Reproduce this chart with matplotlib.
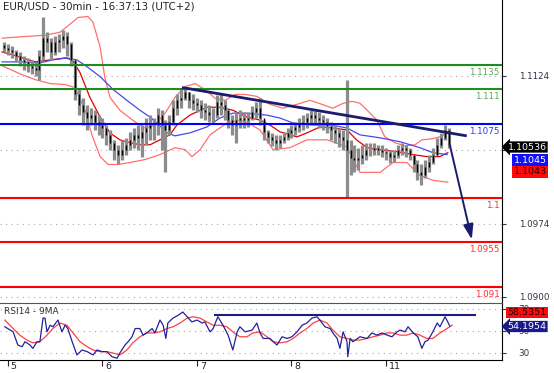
import numpy as np
import matplotlib
matplotlib.use("Agg")
import matplotlib.pyplot as plt
from matplotlib.transforms import ScaledTranslation

# hourly bars, x = hours since the open of day "5"
bar_hours = np.arange(-1, 113)
highs = [1.1158, 1.1156, 1.1154, 1.1150, 1.1148, 1.1144, 1.1142, 1.1140, 1.1138, 1.1150,
         1.1183, 1.1168, 1.1162, 1.1164, 1.1166, 1.1170, 1.1168, 1.1158, 1.1140, 1.1110,
         1.1101, 1.1094, 1.1091, 1.1089, 1.1084, 1.1081, 1.1074, 1.1069, 1.1059, 1.1054,
         1.1059, 1.1061, 1.1067, 1.1071, 1.1074, 1.1074, 1.1081, 1.1084, 1.1081, 1.1091,
         1.1089, 1.1079, 1.1084, 1.1099, 1.1105, 1.1110, 1.1112, 1.1107, 1.1105, 1.1101,
         1.1099, 1.1096, 1.1094, 1.1091, 1.1104, 1.1105, 1.1099, 1.1089, 1.1084, 1.1087,
         1.1089, 1.1087, 1.1087, 1.1093, 1.1097, 1.1101, 1.1079, 1.1069, 1.1066, 1.1064,
         1.1064, 1.1067, 1.1071, 1.1074, 1.1077, 1.1081, 1.1084, 1.1086, 1.1089, 1.1089,
         1.1087, 1.1084, 1.1081, 1.1077, 1.1074, 1.1071, 1.1069, 1.1120, 1.1059, 1.1054,
         1.1051, 1.1054, 1.1056, 1.1056, 1.1056, 1.1054, 1.1054, 1.1051, 1.1049, 1.1049,
         1.1054, 1.1056, 1.1054, 1.1051, 1.1044, 1.1039, 1.1034, 1.1039, 1.1044, 1.1051,
         1.1061, 1.1066, 1.1074, 1.1071]
lows = [1.1148, 1.1145, 1.1142, 1.1138, 1.1134, 1.1130, 1.1128, 1.1126, 1.1124, 1.1120,
        1.1140, 1.1148, 1.1140, 1.1145, 1.1148, 1.1152, 1.1144, 1.1134, 1.1099, 1.1084,
        1.1074, 1.1069, 1.1074, 1.1069, 1.1064, 1.1061, 1.1054, 1.1049, 1.1039, 1.1034,
        1.1039, 1.1044, 1.1049, 1.1051, 1.1049, 1.1042, 1.1054, 1.1059, 1.1059, 1.1064,
        1.1049, 1.1026, 1.1064, 1.1074, 1.1084, 1.1091, 1.1099, 1.1091, 1.1089, 1.1087,
        1.1081, 1.1079, 1.1077, 1.1077, 1.1081, 1.1084, 1.1079, 1.1071, 1.1064, 1.1056,
        1.1071, 1.1071, 1.1072, 1.1079, 1.1081, 1.1074, 1.1059, 1.1056, 1.1053, 1.1049,
        1.1051, 1.1056, 1.1059, 1.1061, 1.1064, 1.1067, 1.1069, 1.1071, 1.1074, 1.1074,
        1.1071, 1.1069, 1.1066, 1.1059, 1.1056, 1.1052, 1.1049, 1.1001, 1.1023, 1.1026,
        1.1028, 1.1034, 1.1039, 1.1043, 1.1044, 1.1044, 1.1042, 1.1039, 1.1036, 1.1037,
        1.1041, 1.1044, 1.1042, 1.1039, 1.1026, 1.1018, 1.1013, 1.1020, 1.1026, 1.1034,
        1.1044, 1.1051, 1.1059, 1.1051]
closes = [1.1152, 1.1150, 1.1148, 1.1144, 1.1140, 1.1138, 1.1134, 1.1132, 1.1130, 1.1144,
          1.1162, 1.1158, 1.1148, 1.1158, 1.1160, 1.1164, 1.1156, 1.1140, 1.1105, 1.1094,
          1.1087, 1.1081, 1.1084, 1.1077, 1.1074, 1.1071, 1.1064, 1.1056, 1.1049, 1.1044,
          1.1049, 1.1054, 1.1059, 1.1064, 1.1061, 1.1067, 1.1071, 1.1074, 1.1074, 1.1084,
          1.1074, 1.1069, 1.1077, 1.1091, 1.1099, 1.1101, 1.1107, 1.1099, 1.1096, 1.1094,
          1.1089, 1.1087, 1.1084, 1.1084, 1.1097, 1.1094, 1.1089, 1.1079, 1.1074, 1.1079,
          1.1081, 1.1079, 1.1081, 1.1087, 1.1091, 1.1081, 1.1067, 1.1062, 1.1059, 1.1056,
          1.1059, 1.1062, 1.1066, 1.1069, 1.1072, 1.1076, 1.1077, 1.1081, 1.1084, 1.1081,
          1.1079, 1.1077, 1.1073, 1.1069, 1.1066, 1.1062, 1.1059, 1.1049, 1.1041, 1.1039,
          1.1041, 1.1044, 1.1049, 1.1049, 1.1051, 1.1049, 1.1047, 1.1046, 1.1042, 1.1044,
          1.1049, 1.1051, 1.1049, 1.1044, 1.1034, 1.1026, 1.1023, 1.1031, 1.1037, 1.1044,
          1.1054, 1.1061, 1.1069, 1.10536]
first_open = 1.1155

# bollinger bands and moving average
bb_up_h = [-1.5, 1.8, 5.6, 9.4, 13.2, 15.7, 17.8, 20.3, 21.6, 23.4, 24.6, 25.9, 28.4, 32.3, 34.8,
           37.3, 39.9, 42.4, 45.0, 47.5, 50.0, 52.6, 55.1, 57.7, 60.2, 63.2, 66.5, 69.8, 73.4,
           76.7, 79.7, 82.5, 85.1, 87.4, 89.4, 91.2, 93.7, 95.7, 98.3, 100.8, 103.4, 105.1,
           107.7, 109.7, 111.7]
bb_up = [1.1162, 1.1163, 1.1164, 1.1165, 1.1168, 1.1176, 1.1183, 1.1184, 1.1178, 1.1153, 1.1122,
         1.1102, 1.1089, 1.1077, 1.1071, 1.1074, 1.1086, 1.1102, 1.1113, 1.1116, 1.1110, 1.1101,
         1.1099, 1.1105, 1.1105, 1.1103, 1.1095, 1.1091, 1.1095, 1.1099, 1.1095, 1.1091, 1.1096,
         1.1098, 1.1096, 1.1089, 1.1079, 1.1062, 1.1056, 1.1053, 1.1054, 1.1059, 1.1060, 1.1062,
         1.1066]
bb_mid_h = [-1.5, 3.0, 6.9, 10.7, 14.5, 16.3, 18.3, 20.8, 23.4, 25.9, 28.4, 31.0, 33.5, 36.1,
            38.6, 41.1, 42.9, 46.2, 50.5, 53.8, 57.1, 60.7, 64.0, 66.5, 69.1, 73.4, 75.9, 79.2,
            82.5, 86.1, 88.5, 91.2, 94.5, 98.8, 102.9, 106.3, 109.7, 111.7]
bb_mid = [1.1148, 1.1143, 1.1138, 1.1140, 1.1142, 1.1140, 1.1127, 1.1102, 1.1082, 1.1066, 1.1059,
          1.1056, 1.1054, 1.1054, 1.1059, 1.1064, 1.1074, 1.1084, 1.1092, 1.1092, 1.1089, 1.1082,
          1.1079, 1.1074, 1.1067, 1.1062, 1.1066, 1.1072, 1.1071, 1.1069, 1.1059, 1.1051, 1.1049,
          1.1047, 1.1044, 1.1042, 1.1042, 1.1046]
bb_low_h = [-1.5, 3.0, 6.9, 10.7, 14.5, 17.0, 19.6, 21.3, 23.4, 25.4, 27.9, 31.0, 34.8, 38.6,
            42.4, 45.0, 46.7, 48.8, 51.3, 55.6, 58.9, 61.5, 64.0, 67.3, 71.6, 75.9, 81.0, 86.1,
            87.6, 89.4, 94.5, 97.8, 101.3, 104.6, 107.9, 111.7]
bb_low = [1.1134, 1.1126, 1.1120, 1.1116, 1.1115, 1.1112, 1.1089, 1.1064, 1.1042, 1.1034, 1.1034,
          1.1036, 1.1039, 1.1044, 1.1051, 1.1049, 1.1042, 1.1049, 1.1064, 1.1076, 1.1079, 1.1075,
          1.1069, 1.1049, 1.1051, 1.1059, 1.1059, 1.1052, 1.1039, 1.1026, 1.1026, 1.1036, 1.1036,
          1.1023, 1.1018, 1.1016]
ma_h = [-1.5, 3.0, 8.1, 11.4, 15.0, 17.5, 20.1, 23.4, 26.7, 30.2, 33.5, 36.1, 38.6, 40.4, 42.4,
        46.2, 50.5, 53.8, 57.1, 60.7, 65.8, 69.1, 72.4, 77.5, 81.8, 86.1, 89.4, 94.5, 99.6, 104.6,
        107.9, 111.5]
ma = [1.1138, 1.1138, 1.1137, 1.1140, 1.1142, 1.1140, 1.1133, 1.1123, 1.1110, 1.1099, 1.1089,
      1.1082, 1.1073, 1.1066, 1.1063, 1.1066, 1.1072, 1.1081, 1.1086, 1.1086, 1.1084, 1.1081,
      1.1076, 1.1074, 1.1074, 1.1071, 1.1064, 1.1061, 1.1057, 1.1051, 1.1046, 1.1044]

levels = [1.1135, 1.111, 1.1075, 1.1, 1.0955, 1.091]
level_labels = ["1.1135", "1.111", "1.1075", "1.1", "1.0955", "1.091"]
level_colors = ["#1e8c1e", "#1e8c1e", "#0000ff", "#ff0000", "#ff0000", "#ff0000"]
level_text_colors = ["#5aa85a", "#5aa85a", "#3333ff", "#ff3030", "#ff3030", "#ff3030"]

trend_h = [44.2, 116.5]
trend_p = [1.1112, 1.1063]
arrow_from = (112.2, 1.1054)
arrow_to = (117.8, 1.0958)

# RSI14 and its 9 period average
rsi_h = [-0.8, 1.3, 2.5, 3.6, 4.3, 5.6, 6.3, 7.4, 8.1, 8.9, 9.4, 9.9, 10.7, 11.4, 12.7, 13.7,
         14.5, 15.2, 16.3, 17.5, 18.8, 20.1, 21.6, 22.6, 23.9, 25.1, 26.4, 27.7, 28.4, 29.7,
         30.5, 31.5, 32.3, 33.5, 34.3, 35.6, 36.6, 37.3, 38.6, 39.4, 40.1, 40.6, 41.9, 43.2,
         44.4, 45.5, 46.7, 48.0, 49.3, 50.0, 51.3, 52.1, 53.3, 54.6, 55.9, 57.1, 58.2, 58.9,
         60.2, 62.0, 63.2, 64.0, 64.8, 66.5, 68.3, 69.6, 70.9, 72.1, 73.4, 74.7, 75.9, 77.2,
         78.5, 79.2, 80.5, 81.8, 82.5, 83.6, 84.3, 85.1, 86.1, 86.3, 86.9, 87.6, 89.4, 91.2,
         92.4, 93.7, 95.0, 96.3, 97.5, 98.8, 99.6, 100.8, 101.6, 102.9, 104.1, 105.1, 105.9,
         106.7, 107.9, 109.0, 109.7, 111.0, 111.7, 112.2]
rsi = [53.6, 49, 37, 35.5, 40, 37, 34, 40, 40, 61.5, 61.5, 49, 55, 53.6, 59.7, 49,
       55, 52, 40, 28, 32.5, 31, 28, 32.5, 31, 31, 26.4, 25, 29.7, 37,
       40, 44.5, 52, 52, 46, 49, 52, 48, 59.7, 55, 43, 57, 61.5, 64,
       67, 62.7, 58, 59.7, 57, 58, 49, 52, 62.7, 55, 46, 32.5, 49, 53.6,
       49, 50.6, 57, 48, 43, 43, 37, 44.5, 43, 44.5, 49, 55, 57, 61.5,
       62.7, 59.7, 53.6, 52, 48, 43, 34, 49, 40, 26.4, 43, 40, 44.5, 43,
       48, 46, 48, 46, 44.5, 49, 50.6, 49, 53.6, 48, 44.5, 34, 40,
       41.5, 49, 57, 53.6, 62.7, 58, 54.2]
rsi_ma_h = [-0.8, 1.3, 3.0, 4.8, 6.3, 8.1, 9.9, 11.4, 13.2, 15.0, 16.5, 18.3, 20.1, 21.6, 23.4,
            25.1, 26.7, 28.4, 30.2, 31.7, 33.5, 35.3, 36.8, 38.6, 40.4, 41.9, 43.7, 45.5, 47.0,
            48.8, 50.5, 52.1, 53.8, 55.6, 57.1, 58.9, 60.7, 62.2, 64.0, 65.8, 67.3, 69.1, 70.9,
            72.4, 74.2, 75.9, 77.5, 79.2, 81.0, 82.5, 84.3, 86.1, 87.6, 89.4, 91.2, 92.7, 94.5,
            96.3, 97.8, 99.6, 101.3, 102.9, 104.6, 106.3, 107.9, 109.7, 111.5, 112.8]
rsi_ma = [59.7, 52, 46, 41.5, 39, 40, 46, 52, 57, 55, 48, 40, 35.5, 32.5, 31,
          31, 29.7, 28, 32.5, 39, 44.5, 48, 48, 49, 52, 53.6, 57, 61.5, 62.7,
          61.5, 58, 55, 55, 53.6, 49, 44.5, 44.5, 48, 49, 44.5, 40, 39, 40,
          43, 48, 52, 57, 59.7, 57, 50.6, 44.5, 43, 41.5, 41.5, 43, 44.5, 46,
          48, 48, 46, 46, 48, 46, 43, 43, 48, 52, 55]
rsi_level = 64.3
rsi_level_h = [52.5, 118.5]

day_ticks = [0, 24, 48, 72, 96]
day_labels = ["5", "6", "7", "8", "11"]

W, H = 554, 373
fig = plt.figure(figsize=(W / 100, H / 100), dpi=100)
ax = fig.add_axes([0, 1 - 303 / H, 502 / W, 303 / H])
ax2 = fig.add_axes([0, 13 / H, 502 / W, 57 / H], sharex=ax)

xlim = (-2.03, 125.46)
ax.set_xlim(*xlim)
ax.set_ylim(1.08936, 1.12007)

# bars: gray high-low range, black open-close
opens = [first_open] + closes[:-1]
ax.vlines(bar_hours, lows, highs, color="#8c8c8c", lw=2.3, zorder=3)
ax.vlines(bar_hours, opens, closes, color="black", lw=1.0, zorder=4)

ax.plot(bb_up_h, bb_up, color="#ff7070", lw=0.9, zorder=2)
ax.plot(bb_low_h, bb_low, color="#ff7070", lw=0.9, zorder=2)
ax.plot(bb_mid_h, bb_mid, color="#e00000", lw=0.9, zorder=2)
ax.plot(ma_h, ma, color="#4848f0", lw=0.9, zorder=2)

for lv, lab, c, tc in zip(levels, level_labels, level_colors, level_text_colors):
    ax.axhline(lv, color=c, lw=1.5, zorder=5)
    ax.annotate(lab, xy=(0.995, lv), xycoords=ax.get_yaxis_transform(),
                xytext=(0, -2), textcoords="offset points", ha="right", va="top",
                fontsize=6.3, color=tc, zorder=6)

ax.plot(trend_h, trend_p, color="#1c1c6e", lw=2, zorder=6, solid_capstyle="butt")
ax.annotate("", xy=arrow_to, xytext=arrow_from,
            arrowprops=dict(arrowstyle="-|>,head_length=0.9,head_width=0.3",
                            color="#1c1c6e", lw=1.4, shrinkA=0, shrinkB=0), zorder=6)

ax.yaxis.tick_right()
ax.set_yticks([1.0900, 1.0974, 1.1049, 1.1124])
ax.set_yticklabels(["1.0900", "1.0974", "", "1.1124"])
ax.tick_params(axis="y", direction="out", length=3, pad=9, labelsize=6.3,
               colors="#333344")
ax.tick_params(axis="x", bottom=False, labelbottom=False)
ax.grid(axis="y", linestyle=(0, (1, 4)), color="#aaaaaa", lw=0.8)
for s in ["left", "top", "bottom"]:
    ax.spines[s].set_visible(False)
ax.spines["right"].set_color("black")

ax.text(0.006, 0.995, "EUR/USD - 30min - 16:37:13 (UTC+2)", transform=ax.transAxes,
        ha="left", va="top", fontsize=7.4, color="#222222")

# RSI panel
ax2.set_ylim(23.4, 75.2)
ax2.plot(rsi_ma_h, rsi_ma, color="#ff4040", lw=0.9)
ax2.plot(rsi_h, rsi, color="#22229a", lw=0.9)
ax2.plot(rsi_level_h, [rsi_level, rsi_level], color="#1c1c80", lw=1.5)
ax2.yaxis.tick_right()
ax2.set_yticks([30, 50, 70])
ax2.set_yticklabels(["30", "50", "70"])
ax2.tick_params(axis="y", direction="out", length=3, pad=9, labelsize=6.3,
                colors="#333344")
ax2.grid(axis="y", linestyle=(0, (1, 4)), color="#aaaaaa", lw=0.8)
ax2.set_xticks(day_ticks)
ax2.set_xticklabels(day_labels, ha="left")
ax2.tick_params(axis="x", direction="out", length=4, pad=-2.6, labelsize=6.8,
                colors="#222233")
shift = ScaledTranslation(2 / 72, 0, fig.dpi_scale_trans)
for lbl in ax2.get_xticklabels():
    lbl.set_transform(lbl.get_transform() + shift)
ax2.spines["left"].set_visible(False)
ax2.spines["top"].set_color("#555555")
ax2.text(0.008, 0.93, "RSI14 - 9MA", transform=ax2.transAxes, ha="left", va="top",
         fontsize=6.5, color="#333333")
ax2.set_xlim(*xlim)


def tag(x, y, s, fc, tc, arrow=False):
    style = "larrow,pad=0.12" if arrow else "square,pad=0.12"
    fig.text(x / W, 1 - y / H, s, ha="center", va="center", fontsize=6.8, color=tc,
             bbox=dict(boxstyle=style, fc=fc, ec="none"), zorder=10)


tag(527, 147, "1.10536", "black", "white", arrow=True)
tag(530, 160, "1.1045", "#1010ff", "white")
tag(530, 172, "1.1043", "#ff0a0a", "#220000")
tag(527, 312.5, "58.5351", "#ff0a0a", "#220000")
tag(527, 326.5, "54.1954", "#1a1a8c", "white", arrow=True)

fig.savefig("out.png", dpi=100)
